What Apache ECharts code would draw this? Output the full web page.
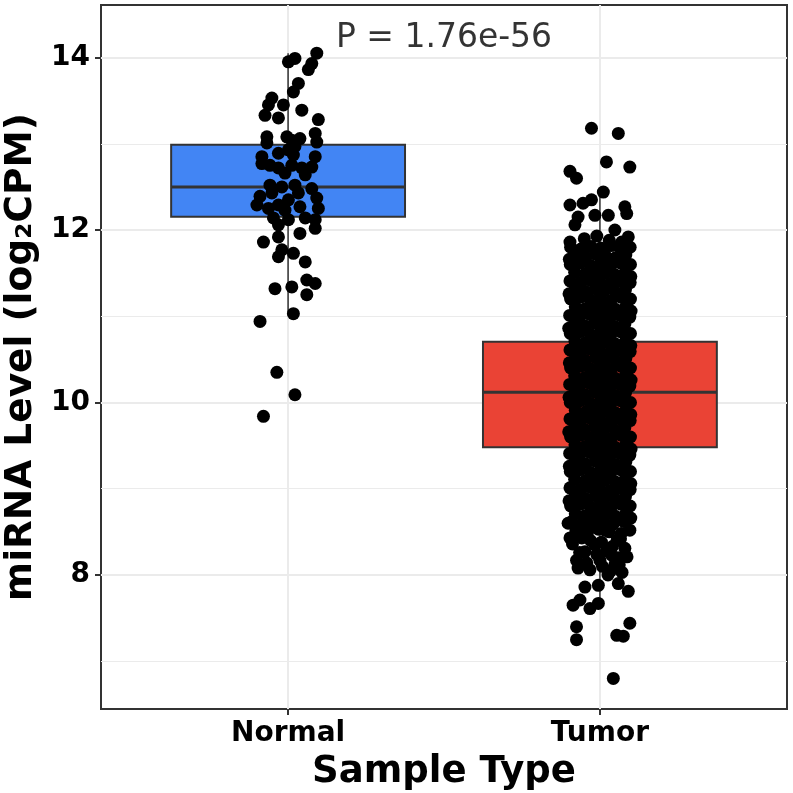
<!DOCTYPE html>
<html>
<head>
<meta charset="utf-8">
<script src="https://cdn.jsdelivr.net/npm/echarts@6/dist/echarts.min.js"></script>
<style>html,body{margin:0;padding:0;background:#fff}#chart{width:793px;height:793px}</style>
</head>
<body>
<div id="chart"></div>
<script>
// ---- data ----
const categories = ['Normal', 'Tumor'];
const categoryPos = [1, 2];
// [lower whisker, Q1, median, Q3, upper whisker]
const normalBox = [11.03, 12.155, 12.50, 12.99, 14.05];
const tumorBox = [7.65, 9.48, 10.12, 10.705, 12.44];
const yTicks = [8, 10, 12, 14];
const yMinorTicks = [7, 9, 11, 13];
const pValueText = 'P = 1.76e-56';
const pValuePos = [1.5, 14.22];

// jittered points [x, log2CPM]
const normalPoints = [
 [1.092,14.05],[1.022,13.99],[1.001,13.95],[1.076,13.93],[1.065,13.86],[1.033,13.70],[1.017,13.60],
 [0.948,13.53],[0.937,13.45],[0.985,13.45],[1.044,13.39],[0.926,13.33],[0.969,13.30],[1.097,13.28],
 [1.087,13.12],[0.932,13.08],[0.996,13.08],[1.038,13.06],[1.092,13.02],[1.012,13.04],[0.932,13.01],
 [1.022,12.97],[1.001,12.93],[0.969,12.89],[0.916,12.85],[1.087,12.85],[1.017,12.87],[0.942,12.75],
 [1.012,12.75],[0.969,12.72],[1.044,12.72],[1.076,12.73],[0.916,12.77],[0.990,12.66],[1.055,12.64],
 [0.942,12.52],[0.980,12.50],[1.022,12.52],[1.076,12.48],[0.910,12.39],[0.948,12.43],[1.033,12.43],
 [1.092,12.37],[1.001,12.35],[0.900,12.29],[0.937,12.25],[0.969,12.29],[1.038,12.27],[1.097,12.25],
 [0.990,12.23],[0.953,12.14],[1.055,12.14],[1.087,12.12],[0.969,12.06],[1.001,12.12],[1.087,12.02],
 [1.038,11.96],[0.921,11.86],[0.969,11.92],[0.980,11.77],[1.017,11.73],[1.055,11.63],[0.969,11.69],
 [0.958,11.32],[1.012,11.34],[1.060,11.42],[1.087,11.38],[1.060,11.25],[1.017,11.03],[0.910,10.94],
 [0.964,10.35],[1.022,10.09],[0.921,9.84]
];
const tumorPoints = [
 // sparse upper tail
 [1.973,13.18],[2.059,13.12],[2.021,12.79],[2.096,12.73],[1.904,12.68],[1.925,12.60],[2.011,12.44],
 [1.973,12.35],[1.946,12.31],[1.904,12.29],[2.080,12.27],[2.086,12.19],[2.027,12.17],[1.930,12.15],
 [1.984,12.17],[1.920,12.06],[2.048,12.00],[2.091,11.92],[1.904,11.86],
 [1.950,11.90],[1.990,11.93],[2.030,11.88],[2.070,11.86],
 // dense core
 [1.906,11.80],[1.939,11.78],[1.971,11.81],[2.003,11.79],[2.036,11.82],[2.068,11.78],[2.097,11.80],
 [1.921,11.71],[1.953,11.69],[1.986,11.72],[2.018,11.70],[2.051,11.68],[2.083,11.71],[1.902,11.66],
 [1.905,11.60],[1.937,11.62],[1.969,11.59],[2.001,11.61],[2.034,11.58],[2.066,11.62],[2.098,11.60],
 [1.919,11.51],[1.952,11.49],[1.984,11.52],[2.017,11.50],[2.049,11.48],[2.081,11.51],[2.099,11.46],
 [1.904,11.41],[1.936,11.39],[1.968,11.42],[2.000,11.40],[2.033,11.38],[2.065,11.41],[2.097,11.39],
 [1.920,11.31],[1.953,11.29],[1.985,11.32],[2.016,11.30],[2.050,11.28],[2.082,11.31],[1.901,11.26],
 [1.906,11.20],[1.938,11.22],[1.970,11.19],[2.002,11.21],[2.035,11.18],[2.067,11.22],[2.098,11.20],
 [1.921,11.11],[1.954,11.09],[1.986,11.12],[2.018,11.10],[2.050,11.08],[2.083,11.11],[2.100,11.06],
 [1.903,11.01],[1.935,10.99],[1.967,11.02],[1.999,11.00],[2.032,10.98],[2.064,11.01],[2.096,10.99],
 [1.919,10.91],[1.951,10.89],[1.983,10.92],[2.015,10.90],[2.048,10.88],[2.080,10.91],[1.900,10.86],
 [1.905,10.80],[1.937,10.82],[1.969,10.79],[2.001,10.81],[2.034,10.78],[2.066,10.82],[2.098,10.80],
 [1.920,10.71],[1.952,10.69],[1.985,10.72],[2.017,10.70],[2.049,10.68],[2.082,10.71],[2.099,10.66],
 [1.904,10.61],[1.936,10.59],[1.968,10.62],[2.000,10.60],[2.033,10.58],[2.065,10.61],[2.097,10.59],
 [1.921,10.51],[1.953,10.49],[1.986,10.52],[2.018,10.50],[2.051,10.48],[2.083,10.51],[1.902,10.46],
 [1.906,10.40],[1.938,10.42],[1.970,10.39],[2.002,10.41],[2.035,10.38],[2.067,10.42],[2.098,10.40],
 [1.919,10.31],[1.952,10.29],[1.984,10.32],[2.016,10.30],[2.049,10.28],[2.081,10.31],[2.100,10.26],
 [1.903,10.21],[1.935,10.19],[1.967,10.22],[1.999,10.20],[2.032,10.18],[2.064,10.21],[2.096,10.19],
 [1.920,10.11],[1.953,10.09],[1.985,10.12],[2.017,10.10],[2.050,10.08],[2.082,10.11],[1.901,10.06],
 [1.905,10.00],[1.937,10.02],[1.969,9.99],[2.001,10.01],[2.034,9.98],[2.066,10.02],[2.098,10.00],
 [1.921,9.91],[1.954,9.89],[1.986,9.92],[2.018,9.90],[2.050,9.88],[2.083,9.91],[2.099,9.86],
 [1.904,9.81],[1.936,9.79],[1.968,9.82],[2.000,9.80],[2.033,9.78],[2.065,9.81],[2.097,9.79],
 [1.919,9.71],[1.951,9.69],[1.983,9.72],[2.015,9.70],[2.048,9.68],[2.080,9.71],[1.900,9.66],
 [1.906,9.60],[1.938,9.62],[1.970,9.59],[2.002,9.61],[2.035,9.58],[2.067,9.62],[2.098,9.60],
 [1.920,9.51],[1.952,9.49],[1.985,9.52],[2.017,9.50],[2.049,9.48],[2.082,9.51],[2.100,9.46],
 [1.903,9.41],[1.935,9.39],[1.967,9.42],[1.999,9.40],[2.032,9.38],[2.064,9.41],[2.096,9.39],
 [1.921,9.31],[1.953,9.29],[1.986,9.32],[2.018,9.30],[2.051,9.28],[2.083,9.31],[1.902,9.26],
 [1.905,9.20],[1.937,9.22],[1.969,9.19],[2.001,9.21],[2.034,9.18],[2.066,9.22],[2.098,9.20],
 [1.919,9.11],[1.952,9.09],[1.984,9.12],[2.016,9.10],[2.049,9.08],[2.081,9.11],[2.099,9.06],
 [1.904,9.01],[1.936,8.99],[1.968,9.02],[2.000,9.00],[2.033,8.98],[2.065,9.01],[2.097,8.99],
 [1.920,8.91],[1.953,8.89],[1.985,8.92],[2.017,8.90],[2.050,8.88],[2.082,8.91],[1.901,8.86],
 [1.906,8.80],[1.938,8.82],[1.970,8.79],[2.002,8.81],[2.035,8.78],[2.067,8.82],[2.097,8.80],
 [1.921,8.71],[1.954,8.69],[1.986,8.72],[2.018,8.70],[2.050,8.68],[2.083,8.71],[2.099,8.66],
 // semi-dense lower band
 [1.910,8.62],[1.944,8.60],[1.978,8.63],[2.010,8.61],[2.043,8.59],[2.076,8.62],
 [1.923,8.51],[1.960,8.49],[1.995,8.53],[2.030,8.50],[2.068,8.48],
 [1.912,8.36],[1.970,8.40],[2.005,8.38],[2.040,8.33],[2.066,8.42],
 [1.935,8.26],[1.990,8.24],[2.022,8.28],[2.058,8.20],
 [1.958,8.14],[2.008,8.10],[2.035,8.05],[2.062,8.12],
 // lower tail
 [1.968,8.57],[2.016,8.52],[2.055,8.40],[1.984,8.35],[1.952,8.27],[2.000,8.17],[2.048,8.12],
 [2.071,8.03],[1.968,8.06],[2.026,8.00],[1.942,8.43],[2.087,8.21],
 [1.898,8.60],[1.904,8.43],[1.925,8.17],[1.930,8.08],[2.096,8.52],[2.080,8.31],[2.038,8.23],
 [1.952,7.86],[1.995,7.88],[2.059,7.90],[2.091,7.81],[1.914,7.65],[1.936,7.71],[1.968,7.61],
 [1.995,7.67],[1.925,7.40],[1.925,7.25],[2.054,7.30],[2.075,7.29],[2.096,7.44],[2.043,6.80]
];

// ---- styles ----
const boxFill = ['#4285F4', '#EA4335'];
const FONT = 'DejaVu Sans';
const gridColor = '#ebebeb';
const inkColor = '#333333';

const chart = echarts.init(document.getElementById('chart'), null, {renderer: 'canvas'});

const boxData = [[categoryPos[0]].concat(normalBox), [categoryPos[1]].concat(tumorBox)];

function renderBox(params, api) {
  const x = api.value(0);
  const lo = api.coord([x, api.value(1)]);
  const q1 = api.coord([x, api.value(2)]);
  const md = api.coord([x, api.value(3)]);
  const q3 = api.coord([x, api.value(4)]);
  const hi = api.coord([x, api.value(5)]);
  const left = api.coord([x - 0.375, api.value(3)])[0];
  const right = api.coord([x + 0.375, api.value(3)])[0];
  const stroke = {stroke: inkColor, lineWidth: 1.5};
  return {
    type: 'group',
    children: [
      {type: 'line', shape: {x1: hi[0], y1: hi[1], x2: q3[0], y2: q3[1]}, style: stroke},
      {type: 'line', shape: {x1: q1[0], y1: q1[1], x2: lo[0], y2: lo[1]}, style: stroke},
      {type: 'rect', shape: {x: left, y: q3[1], width: right - left, height: q1[1] - q3[1]},
        style: {fill: boxFill[params.dataIndex], stroke: inkColor, lineWidth: 2}},
      {type: 'line', shape: {x1: left, y1: md[1], x2: right, y2: md[1]}, style: {stroke: inkColor, lineWidth: 3}}
    ]
  };
}

const gridLines = []
  .concat(yMinorTicks.map(v => ({yAxis: v, lineStyle: {width: 1}})))
  .concat(yTicks.map(v => ({yAxis: v, lineStyle: {width: 2}})))
  .concat(categoryPos.map(v => ({xAxis: v, lineStyle: {width: 2}})));

const option = {
  animation: false,
  backgroundColor: '#fff',
  grid: {left: 101, right: 6, top: 5, bottom: 84, containLabel: false, outerBoundsMode: 'none',
    show: true, borderColor: inkColor, borderWidth: 2, backgroundColor: '#fff', z: 0},
  xAxis: {
    type: 'value', min: 0.4, max: 2.6,
    name: 'Sample Type', nameLocation: 'middle', nameGap: 45,
    nameTextStyle: {fontFamily: FONT, fontWeight: 'bold', fontSize: 37, color: '#000'},
    axisLine: {show: false},
    axisTick: {show: true, length: 6, customValues: categoryPos, lineStyle: {color: inkColor, width: 2}},
    axisLabel: {customValues: categoryPos, margin: 11, fontFamily: FONT, fontWeight: 'bold', fontSize: 28, color: '#000',
      formatter: v => categories[categoryPos.indexOf(v)] || ''},
    splitLine: {show: false}
  },
  yAxis: {
    type: 'value', min: 6.446, max: 14.609,
    name: 'miRNA Level (log₂CPM)', nameLocation: 'middle', nameGap: 49,
    nameTextStyle: {fontFamily: FONT, fontWeight: 'bold', fontSize: 37.5, color: '#000'},
    axisLine: {show: false},
    axisTick: {show: true, length: 6, customValues: yTicks, lineStyle: {color: inkColor, width: 2}},
    axisLabel: {customValues: yTicks, margin: 11, fontFamily: FONT, fontWeight: 'bold', fontSize: 28, color: '#000'},
    splitLine: {show: false}
  },
  series: [
    {
      type: 'line', data: [], z: 1, silent: true,
      markLine: {silent: true, z: 1, symbol: ['none', 'none'], label: {show: false},
        lineStyle: {color: gridColor, type: 'solid'}, data: gridLines, animation: false}
    },
    {
      type: 'custom', z: 2, silent: true, renderItem: renderBox,
      encode: {x: 0, y: [1, 2, 3, 4, 5]}, data: boxData
    },
    {
      type: 'scatter', z: 3, silent: true, symbol: 'circle', symbolSize: 13,
      itemStyle: {color: '#000', opacity: 1},
      data: normalPoints.concat(tumorPoints)
    },
    {
      type: 'scatter', z: 4, silent: true, symbolSize: 0,
      data: [pValuePos],
      label: {show: true, position: 'inside', formatter: pValueText, fontFamily: FONT, fontSize: 33, color: '#000'}
    }
  ]
};
chart.setOption(option);
</script>
</body>
</html>
